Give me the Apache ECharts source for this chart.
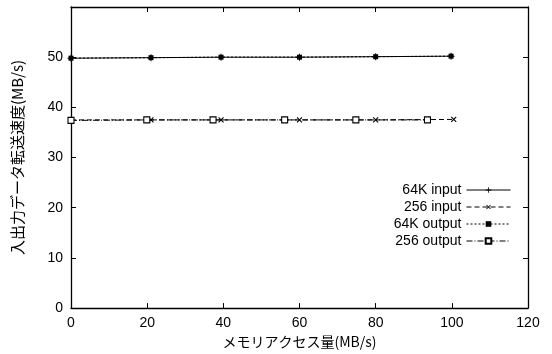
<!DOCTYPE html>
<html><head><meta charset="utf-8">
<script src="https://cdn.jsdelivr.net/npm/echarts@6/dist/echarts.min.js"></script>
<style>html,body{margin:0;padding:0;background:#fff}#c{width:552px;height:354px}</style>
</head><body><div id="c"></div>
<script>
const xTicks = [0, 20, 40, 60, 80, 100, 120];
const yTicks = [0, 10, 20, 30, 40, 50];
const seriesNames = ['64K input', '256 input', '64K output', '256 output'];
const x64kIn = [0, 21, 39.4, 60, 80, 99.8];
const y64kIn = [49.8, 49.9, 50.0, 50.0, 50.1, 50.2];
const x256In = [0, 21, 39.4, 60, 80, 100.5];
const y256In = [37.5, 37.5, 37.5, 37.5, 37.5, 37.6];
const x64kOut = [0, 21, 39.4, 60, 80, 99.8];
const y64kOut = [49.8, 49.9, 50.0, 50.0, 50.1, 50.2];
const x256Out = [0, 19.9, 37.3, 56.1, 74.8, 93.6];
const y256Out = [37.4, 37.5, 37.5, 37.5, 37.5, 37.5];

const pts = (xs, ys) => xs.map((x, i) => [x, ys[i]]);
const plus = 'path://M0,4.3L10,4.3L10,5.7L0,5.7ZM4.3,0L5.7,0L5.7,10L4.3,10Z';
const cross = 'path://M0,4.2L10,4.2L10,5.8L0,5.8ZM4.2,0L5.8,0L5.8,10L4.2,10Z';
const font = 'Liberation Sans, Arial, sans-serif';

const chart = echarts.init(document.getElementById('c'), null, {renderer: 'canvas'});
const axisCommon = {
  axisLine: {show: true, onZero: false, lineStyle: {color: '#000', width: 1.3}},
  axisTick: {show: true, inside: true, length: 5, lineStyle: {color: '#000'}},
  splitLine: {show: false}
};
chart.setOption({
  animation: false,
  backgroundColor: '#fff',
  grid: {left: 71, right: 24, top: 7, bottom: 45},
  legend: {
    right: 36, top: 178, orient: 'vertical', align: 'right',
    itemWidth: 44, itemHeight: 7, itemGap: 3,
    lineStyle: {width: 1},
    textStyle: {fontFamily: font, fontSize: 14, color: '#000'},
    data: seriesNames
  },
  xAxis: [
    Object.assign({type: 'value', min: 0, max: 120, interval: 20, position: 'bottom',
      name: 'メモリアクセス量(MB/s)', nameLocation: 'middle', nameGap: 25,
      nameTextStyle: {fontFamily: 'Noto Sans CJK JP', fontSize: 14, color: '#000'},
      axisLabel: {fontFamily: font, fontSize: 14, color: '#000', margin: 8}}, axisCommon),
    Object.assign({type: 'value', min: 0, max: 120, interval: 20, position: 'top',
      axisLabel: {show: false}}, axisCommon)
  ],
  yAxis: [
    Object.assign({type: 'value', min: 0, max: 60, interval: 10, position: 'left',
      name: '入出力データ転送速度(MB/s)', nameLocation: 'middle', nameGap: 46,
      nameTextStyle: {fontFamily: 'Noto Sans CJK JP', fontSize: 15, color: '#000'},
      axisLabel: {fontFamily: font, fontSize: 14, color: '#000', margin: 8,
        formatter: v => yTicks.includes(v) ? String(v) : ''}}, axisCommon),
    Object.assign({type: 'value', min: 0, max: 60, interval: 10, position: 'right',
      axisLabel: {show: false}}, axisCommon)
  ],
  series: [
    {name: seriesNames[0], type: 'line', data: pts(x64kIn, y64kIn),
      symbol: plus, symbolSize: 7, showAllSymbol: true,
      lineStyle: {color: '#000', width: 1, type: 'solid'},
      itemStyle: {color: '#000'}},
    {name: seriesNames[1], type: 'line', data: pts(x256In, y256In),
      symbol: cross, symbolSize: 7, symbolRotate: 45, showAllSymbol: true,
      lineStyle: {color: '#000', width: 1, type: [5, 3]},
      itemStyle: {color: '#000'}},
    {name: seriesNames[2], type: 'line', data: pts(x64kOut, y64kOut),
      symbol: 'rect', symbolSize: 5, showAllSymbol: true,
      lineStyle: {color: '#000', width: 1, type: [2, 2]},
      itemStyle: {color: '#000'}},
    {name: seriesNames[3], type: 'line', data: pts(x256Out, y256Out),
      symbol: 'rect', symbolSize: 6, showAllSymbol: true,
      lineStyle: {color: '#000', width: 1, type: [6, 2, 1, 2]},
      itemStyle: {color: '#fff', borderColor: '#000', borderWidth: 1.1}}
  ]
});
</script></body></html>
